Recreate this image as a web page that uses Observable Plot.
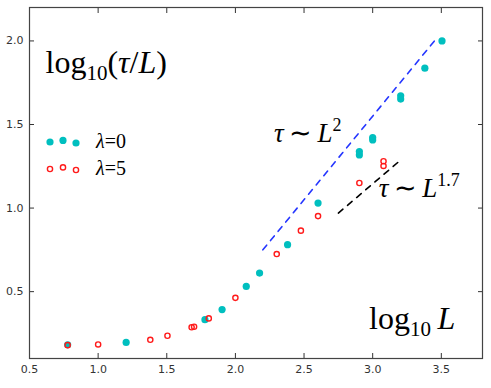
<!DOCTYPE html>
<html><head><meta charset="utf-8">
<script src="https://cdn.jsdelivr.net/npm/d3@7"></script>
<script src="https://cdn.jsdelivr.net/npm/@observablehq/plot@0.6"></script>
<style>
body{margin:0;background:#fff;}
#chart{position:relative;width:491px;height:388px;}
#legend{position:absolute;left:44px;top:128px;font-family:"Liberation Serif",serif;font-size:20px;color:#000;}
#legend .row{display:flex;align-items:center;height:27px;}
#legend svg{margin-right:10px;}
</style></head><body><div id="chart"></div>
<script>
// λ = 0 series (filled cyan)
const logL0 = [0.778, 1.204, 1.778, 1.903, 2.079, 2.176, 2.380, 2.602, 2.903, 2.903, 3.000, 3.000, 3.204, 3.204, 3.380, 3.505];
const tau0  = [0.182, 0.196, 0.332, 0.393, 0.531, 0.611, 0.781, 1.030, 1.318, 1.338, 1.408, 1.422, 1.652, 1.672, 1.837, 2.000];
// λ = 5 series (open red)
const logL5 = [0.778, 1.000, 1.380, 1.505, 1.681, 1.699, 1.806, 2.000, 2.301, 2.477, 2.602, 2.903, 3.079, 3.079];
const tau5  = [0.180, 0.184, 0.212, 0.236, 0.287, 0.290, 0.340, 0.463, 0.725, 0.865, 0.952, 1.150, 1.252, 1.280];
// guide lines
const guideL2x = [2.20, 3.47];
const guideL2y = [0.75, 2.02];
const guideL17x = [2.75, 3.20];
const guideL17y = [0.97, 1.285];
// ticks
const xTicks = [0.5, 1.0, 1.5, 2.0, 2.5, 3.0, 3.5];
const yTicks = [0.5, 1.0, 1.5, 2.0];
const seriesLabels = ["λ=0", "λ=5"];

const s0 = logL0.map((x, i) => ({x, y: tau0[i]}));
const s5 = logL5.map((x, i) => ({x, y: tau5[i]}));
const g2 = guideL2x.map((x, i) => ({x, y: guideL2y[i]}));
const g17 = guideL17x.map((x, i) => ({x, y: guideL17y[i]}));

const bigLabels = [
  {text: "log10(τ/L)", x: 0.617, y: 1.811},
  {text: "log10 L", x: 2.974, y: 0.278}
];
const scalingLabels = [
  {text: "τ ~ L2", x: 2.281, y: 1.395},
  {text: "τ ~ L1.7", x: 3.045, y: 1.064}
];

const axisFont = {fontSize: 11, fontFamily: "DejaVu Sans, sans-serif"};
const plot = Plot.plot({
  width: 491, height: 388,
  marginLeft: 29, marginRight: 9, marginTop: 7, marginBottom: 30,
  x: {domain: [0.5, 3.8]},
  y: {domain: [0.1, 2.2]},
  style: {background: "#fff", color: "#333"},
  marks: [
    Plot.axisX(xTicks, {anchor: "bottom", tickSize: -5, tickPadding: 12, tickFormat: d3.format(".1f"), label: null, ...axisFont, fill: "#333"}),
    Plot.axisX(xTicks, {anchor: "top", tickSize: -5, text: null, label: null}),
    Plot.axisY(yTicks, {anchor: "left", tickSize: -5, tickPadding: 11, tickFormat: d3.format(".1f"), label: null, ...axisFont, fill: "#333"}),
    Plot.axisY(yTicks, {anchor: "right", tickSize: -5, text: null, label: null}),
    Plot.line(g2, {x: "x", y: "y", stroke: "#2536ff", strokeWidth: 1.6, strokeDasharray: "6,6"}),
    Plot.line(g17, {x: "x", y: "y", stroke: "#000", strokeWidth: 1.6, strokeDasharray: "6,6"}),
    Plot.dot(s0, {x: "x", y: "y", r: 3.6, fill: "#00bfbf", stroke: "none"}),
    Plot.dot(s5, {x: "x", y: "y", r: 2.6, fill: "none", stroke: "#ff1a1a", strokeWidth: 1.4}),
    Plot.text(bigLabels, {x: "x", y: "y", text: "text", textAnchor: "start", lineAnchor: "bottom", fontSize: 32, fontFamily: "Liberation Serif, serif", fill: "#000"}),
    Plot.text(scalingLabels, {x: "x", y: "y", text: "text", textAnchor: "start", lineAnchor: "bottom", fontSize: 27, fontFamily: "Liberation Serif, serif", fill: "#000"}),
    Plot.frame({stroke: "#444", strokeWidth: 1.2})
  ]
});

// render math-like annotation text with italic, sub and superscripts
const specs = {
  "log10(τ/L)": [["log"], ["10", "sub"], ["("], ["τ", "i"], ["/"], ["L", "i"], [")"]],
  "τ ~ L2": [["τ", "i"], ["\u2009∼\u2009"], ["L", "i"], ["2", "sup"]],
  "τ ~ L1.7": [["τ", "i"], ["\u2009∼\u2009"], ["L", "i"], ["1.7", "sup"]],
  "log10 L": [["log"], ["10", "sub"], ["\u2009"], ["L", "i"]]
};
d3.select(plot).selectAll("text").each(function() {
  const t = this.textContent;
  if (!specs[t]) return;
  const el = d3.select(this);
  el.text(null);
  let shift = 0;
  for (const [s, kind] of specs[t]) {
    const ts = el.append("tspan").text(s);
    let target = 0;
    if (kind === "sub") { target = 7; ts.attr("font-size", 21); }
    else if (kind === "sup") { target = -11; ts.attr("font-size", 18); }
    else if (kind === "i") ts.attr("font-style", "italic");
    if (target !== shift) { ts.attr("dy", target - shift); shift = target; }
  }
});

const chart = document.getElementById("chart");
chart.appendChild(plot);

// legend (matplotlib-style scatter legend with three markers)
const legend = document.createElement("div");
legend.id = "legend";
const markerOffsets = [0, -1.6, 1];
seriesLabels.forEach((lab, k) => {
  const row = document.createElement("div");
  row.className = "row";
  const svg = d3.create("svg").attr("width", 42).attr("height", 14);
  markerOffsets.forEach((o, j) => {
    const c = svg.append("circle").attr("cx", 6 + j * 13).attr("cy", 7 + o);
    if (k === 0) c.attr("r", 3.6).attr("fill", "#00bfbf");
    else c.attr("r", 2.6).attr("fill", "none").attr("stroke", "#ff1a1a").attr("stroke-width", 1.4);
  });
  row.appendChild(svg.node());
  const span = document.createElement("span");
  span.innerHTML = "<i>λ</i>=" + lab.split("=")[1];
  row.appendChild(span);
  legend.appendChild(row);
});
chart.appendChild(legend);
</script></body></html>
